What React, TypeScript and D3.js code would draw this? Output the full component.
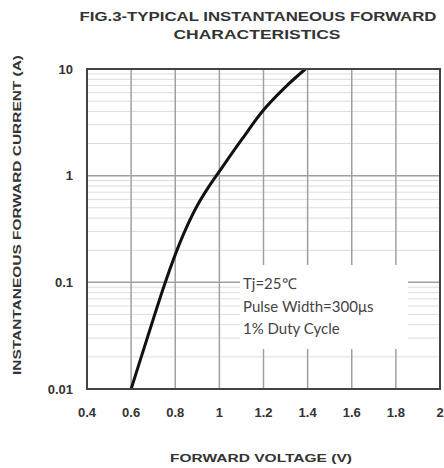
import * as d3 from "d3";

// forward voltage (V) vs instantaneous forward current (A)
const voltage = [0.6, 0.675, 0.75, 0.8, 0.85, 0.9, 0.95, 1.0, 1.1, 1.2, 1.3, 1.39];
const current = [0.01, 0.0309, 0.0933, 0.182, 0.324, 0.525, 0.776, 1.096, 2.16, 4.12, 6.8, 10];

const xTicks = [0.4, 0.6, 0.8, 1, 1.2, 1.4, 1.6, 1.8, 2];
const yTicks = [0.01, 0.1, 1, 10];
const yTickLabels = ["0.01", "0.1", "1", "10"];
const noteLines = ["Tj=25\u2103", "Pulse Width=300\u03bcs", "1% Duty Cycle"];

const title1 = "FIG.3-TYPICAL INSTANTANEOUS FORWARD";
const title2 = "CHARACTERISTICS";
const xTitle = "FORWARD VOLTAGE (V)";
const yTitle = "INSTANTANEOUS FORWARD CURRENT (A)";

const App = () => {
    const width = 444;
    const height = 468;
    const marginLeft = 87;
    const marginRight = 4;
    const marginTop = 69;
    const marginBottom = 79;

    const x = d3.scaleLinear().domain([0.4, 2]).range([marginLeft, width - marginRight]);
    const y = d3.scaleLog().domain([0.01, 10]).range([height - marginBottom, marginTop]);

    // minor lines 2..9 in every decade
    const minor: number[] = [];
    [0.01, 0.1, 1].forEach(dec => {
        for (let k = 2; k <= 9; k++) minor.push(dec * k);
    });

    const points = voltage.map((v, i) => [x(v), y(current[i])] as [number, number]);
    const line = d3.line().curve(d3.curveCatmullRom.alpha(0.5));

    const labelFont = "'Liberation Sans', Arial, sans-serif";
    const noteFont = "Lato, 'Open Sans', sans-serif";

    return (
        <svg width={width} height={height} style={{ position: 'absolute', left: 0, top: 0, background: '#fff' }}>
            <text x={258} y={21} textAnchor="middle" fontFamily={labelFont} fontWeight="bold" fontSize={13}
                  fill="#333" textLength={357} lengthAdjust="spacingAndGlyphs">{title1}</text>
            <text x={257} y={39} textAnchor="middle" fontFamily={labelFont} fontWeight="bold" fontSize={13}
                  fill="#333" textLength={167} lengthAdjust="spacingAndGlyphs">{title2}</text>

            {/* grid */}
            <g>
                {minor.map((d, i) => (
                    <line key={i} x1={x(0.4)} x2={x(2)} y1={y(d)} y2={y(d)} stroke="#dcdcdc" strokeWidth={1} />
                ))}
                {yTicks.map((d, i) => (
                    <line key={i} x1={x(0.4)} x2={x(2)} y1={y(d)} y2={y(d)} stroke="#a0a0a0" strokeWidth={1.5} />
                ))}
                {xTicks.map((d, i) => (
                    <line key={i} x1={x(d)} x2={x(d)} y1={y(10)} y2={y(0.01)} stroke="#a0a0a0" strokeWidth={1.5} />
                ))}
            </g>

            {/* note box */}
            <rect x={240} y={265} width={168} height={84} fill="#fff" />
            {noteLines.map((t, i) => (
                <text key={i} x={243} y={289 + i * 22.5} fontFamily={noteFont} fontSize={15} fill="#444">{t}</text>
            ))}

            <path d={line(points) ?? ""} fill="none" stroke="#111" strokeWidth={3} />

            <rect x={x(0.4)} y={y(10)} width={x(2) - x(0.4)} height={y(0.01) - y(10)}
                  fill="none" stroke="#444" strokeWidth={2} />

            {/* tick labels */}
            {yTicks.map((d, i) => (
                <text key={i} x={73} y={y(d)} dy="0.35em" textAnchor="end" fontFamily={labelFont}
                      fontWeight="bold" fontSize={13} fill="#333">{yTickLabels[i]}</text>
            ))}
            {xTicks.map((d, i) => (
                <text key={i} x={x(d)} y={412} dy="0.35em" textAnchor="middle" fontFamily={labelFont}
                      fontWeight="bold" fontSize={13} fill="#333">{d3.format("")(d)}</text>
            ))}

            <text x={261} y={458} dy="0.35em" textAnchor="middle" fontFamily={labelFont} fontWeight="bold"
                  fontSize={11} fill="#333" textLength={182} lengthAdjust="spacingAndGlyphs">{xTitle}</text>
            <text transform={`translate(17,${215}) rotate(-90)`} dy="0.35em" textAnchor="middle" fontFamily={labelFont}
                  fontWeight="bold" fontSize={11} fill="#333" textLength={320} lengthAdjust="spacingAndGlyphs">{yTitle}</text>
        </svg>
    );
};

export default App;
